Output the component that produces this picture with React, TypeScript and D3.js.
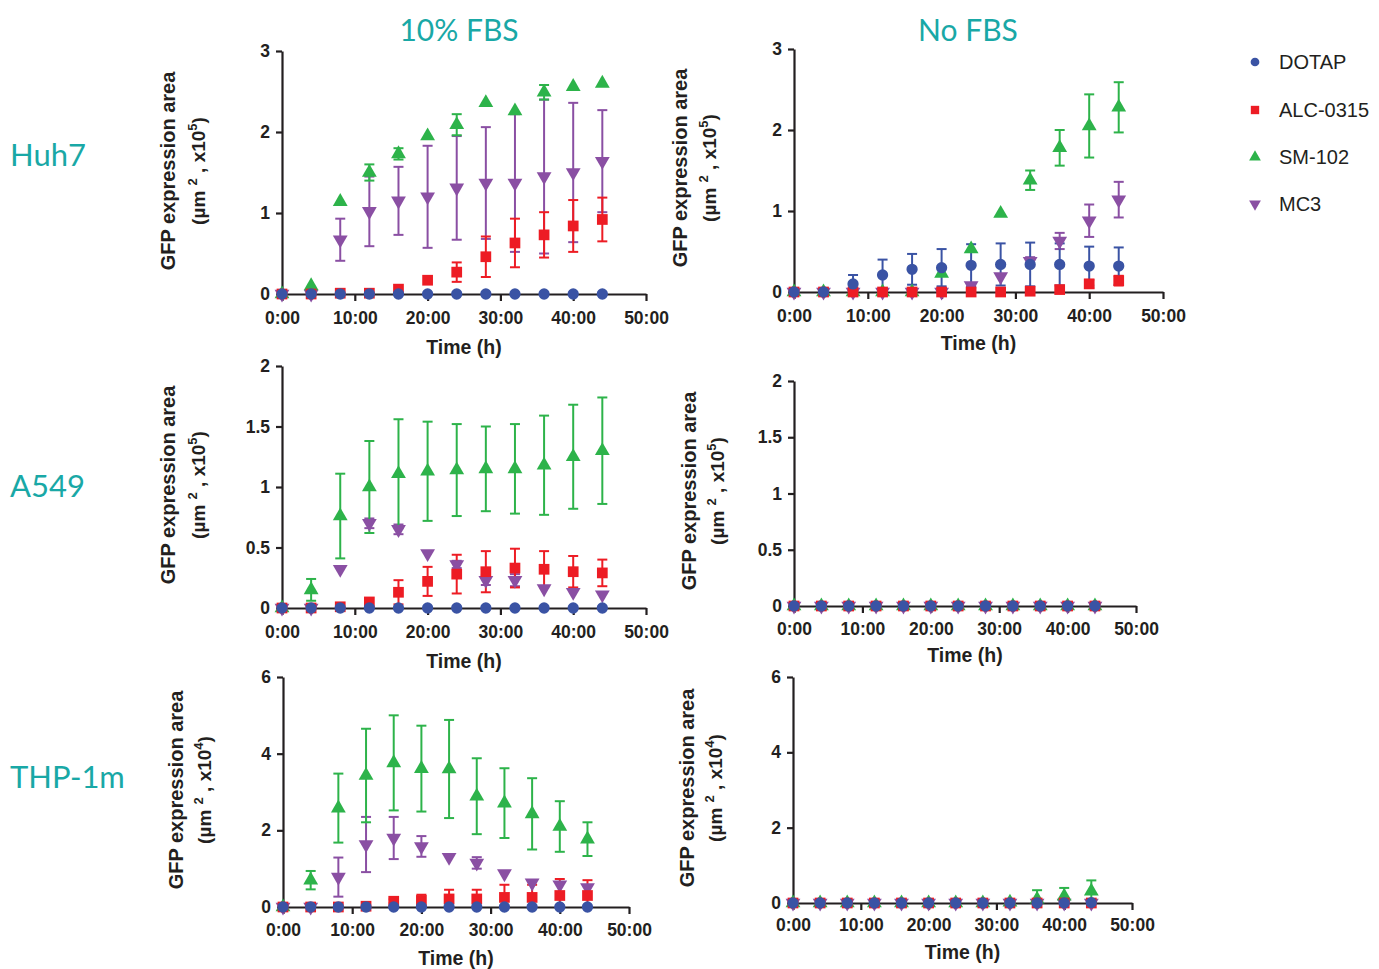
import * as d3 from 'd3'
import { useEffect, useRef } from 'react'

// sampling times (h)
const times = [0, 4, 8, 12, 16, 20, 24, 28, 32, 36, 40, 44]
const xTicks = [0, 10, 20, 30, 40, 50]

const seriesNames = ['DOTAP', 'ALC-0315', 'SM-102', 'MC3']
const seriesColors = ['#3a53a4', '#ed1c24', '#2db34a', '#8a4fa3']
const seriesShapes = ['circle', 'square', 'triangle', 'down']

const columnTitles = ['10% FBS', 'No FBS']
const rowLabels = ['Huh7', 'A549', 'THP-1m']

// Huh7, 10% FBS
const huh7FbsDotap = [0, 0, 0, 0, 0, 0, 0, 0, 0, 0, 0, 0]
const huh7FbsDotapSd = [0, 0, 0, 0, 0, 0, 0, 0, 0, 0, 0, 0]
const huh7FbsAlc = [0, 0, 0.01, 0.01, 0.06, 0.17, 0.27, 0.46, 0.63, 0.73, 0.84, 0.92]
const huh7FbsAlcSd = [0, 0, 0, 0, 0, 0, 0.12, 0.25, 0.3, 0.28, 0.32, 0.27]
const huh7FbsSm = [0, 0.1, 1.14, 1.5, 1.73, 1.95, 2.09, 2.36, 2.26, 2.49, 2.56, 2.6]
const huh7FbsSmSd = [0, 0, 0, 0.1, 0.07, 0, 0.13, 0, 0, 0.09, 0, 0]
const huh7FbsMc3 = [0, 0, 0.67, 1.02, 1.15, 1.2, 1.31, 1.37, 1.37, 1.45, 1.5, 1.64]
const huh7FbsMc3Sd = [0, 0, 0.26, 0.43, 0.42, 0.63, 0.64, 0.69, 0.85, 0.95, 0.86, 0.63]

// Huh7, no FBS
const huh7NoDotap = [0, 0, 0.1, 0.21, 0.28, 0.3, 0.33, 0.34, 0.34, 0.34, 0.32, 0.32]
const huh7NoDotapSd = [0, 0, 0.11, 0.19, 0.19, 0.23, 0.26, 0.26, 0.27, 0.26, 0.24, 0.23]
const huh7NoAlc = [0, 0, 0, 0, 0, 0, 0, 0, 0.01, 0.03, 0.1, 0.14]
const huh7NoAlcSd = [0, 0, 0, 0, 0, 0, 0, 0, 0, 0, 0.05, 0.06]
const huh7NoSm = [0, 0, 0, 0, 0, 0.23, 0.53, 0.97, 1.38, 1.78, 2.05, 2.28]
const huh7NoSmSd = [0, 0, 0, 0, 0, 0, 0, 0, 0.12, 0.22, 0.39, 0.31]
const huh7NoMc3 = [0, 0, 0, 0, 0, 0, 0.08, 0.19, 0.38, 0.63, 0.88, 1.14]
const huh7NoMc3Sd = [0, 0, 0, 0, 0, 0, 0.03, 0, 0.05, 0.1, 0.2, 0.22]

// A549, 10% FBS
const a549FbsDotap = [0, 0, 0, 0, 0, 0, 0, 0, 0, 0, 0, 0]
const a549FbsDotapSd = [0, 0, 0, 0, 0, 0, 0, 0, 0, 0, 0, 0]
const a549FbsAlc = [0, 0, 0.01, 0.05, 0.13, 0.22, 0.28, 0.3, 0.33, 0.32, 0.3, 0.29]
const a549FbsAlcSd = [0, 0, 0, 0, 0.1, 0.12, 0.16, 0.17, 0.16, 0.15, 0.13, 0.11]
const a549FbsSm = [0, 0.15, 0.76, 1.0, 1.11, 1.13, 1.14, 1.15, 1.15, 1.18, 1.25, 1.3]
const a549FbsSmSd = [0, 0.09, 0.35, 0.38, 0.45, 0.41, 0.38, 0.35, 0.37, 0.41, 0.43, 0.44]
const a549FbsMc3 = [0, 0, 0.32, 0.7, 0.65, 0.45, 0.36, 0.23, 0.23, 0.16, 0.13, 0.11]
const a549FbsMc3Sd = [0, 0, 0, 0.04, 0.04, 0, 0.03, 0.04, 0.05, 0, 0, 0]

// A549, no FBS
const a549NoDotap = [0, 0, 0, 0, 0, 0, 0, 0, 0, 0, 0, 0]
const a549NoAlc = [0, 0, 0, 0, 0, 0, 0, 0, 0, 0, 0, 0]
const a549NoSm = [0, 0, 0, 0, 0, 0, 0, 0, 0, 0, 0, 0]
const a549NoMc3 = [0, 0, 0, 0, 0, 0, 0, 0, 0, 0, 0, 0]
const a549NoSd = [0, 0, 0, 0, 0, 0, 0, 0, 0, 0, 0, 0]

// THP-1m, 10% FBS
const thpFbsDotap = [0, 0, 0, 0, 0, 0, 0, 0, 0, 0, 0, 0]
const thpFbsDotapSd = [0, 0, 0, 0, 0, 0, 0, 0, 0, 0, 0, 0]
const thpFbsAlc = [0, 0, 0, 0.02, 0.15, 0.17, 0.21, 0.21, 0.25, 0.25, 0.3, 0.3]
const thpFbsAlcSd = [0, 0, 0, 0, 0.05, 0.15, 0.24, 0.24, 0.33, 0.33, 0.43, 0.4]
const thpFbsSm = [0, 0.7, 2.58, 3.43, 3.76, 3.61, 3.6, 2.89, 2.71, 2.43, 2.1, 1.77]
const thpFbsSmSd = [0, 0.24, 0.9, 1.22, 1.24, 1.12, 1.28, 0.99, 0.91, 0.93, 0.66, 0.44]
const thpFbsMc3 = [0, 0, 0.78, 1.63, 1.8, 1.58, 1.3, 1.15, 0.87, 0.63, 0.58, 0.51]
const thpFbsMc3Sd = [0, 0, 0.51, 0.72, 0.55, 0.27, 0, 0.15, 0, 0, 0, 0]

// THP-1m, no FBS
const thpNoDotap = [0, 0, 0, 0, 0, 0, 0, 0, 0, 0, 0, 0.01]
const thpNoAlc = [0, 0, 0, 0, 0, 0, 0, 0, 0, 0, 0, 0]
const thpNoSm = [0, 0, 0, 0, 0, 0, 0, 0, 0.02, 0.1, 0.18, 0.31]
const thpNoSmSd = [0, 0, 0, 0, 0, 0, 0, 0, 0, 0.24, 0.22, 0.29]
const thpNoMc3 = [0, 0, 0, 0, 0, 0, 0, 0, 0, 0, 0, 0]
const thpNoSd = [0, 0, 0, 0, 0, 0, 0, 0, 0, 0, 0, 0]

const yTicksHuh7 = [0, 1, 2, 3]
const yTicksA549 = [0, 0.5, 1, 1.5, 2]
const yTicksThp = [0, 2, 4, 6]

const panels = [
  {
    series: [[huh7FbsDotap, huh7FbsDotapSd], [huh7FbsAlc, huh7FbsAlcSd], [huh7FbsSm, huh7FbsSmSd], [huh7FbsMc3, huh7FbsMc3Sd]],
    yTicks: yTicksHuh7, exp: '5',
    x0: 282, x1: 646, yTop: 51, yBot: 294, tickDy: 24, titleDy: 53, lab1: 168, lab2: 198, labY: 171,
  },
  {
    series: [[huh7NoDotap, huh7NoDotapSd], [huh7NoAlc, huh7NoAlcSd], [huh7NoSm, huh7NoSmSd], [huh7NoMc3, huh7NoMc3Sd]],
    yTicks: yTicksHuh7, exp: '5',
    x0: 794, x1: 1163, yTop: 49, yBot: 292, tickDy: 24, titleDy: 51, lab1: 680, lab2: 709, labY: 168,
  },
  {
    series: [[a549FbsDotap, a549FbsDotapSd], [a549FbsAlc, a549FbsAlcSd], [a549FbsSm, a549FbsSmSd], [a549FbsMc3, a549FbsMc3Sd]],
    yTicks: yTicksA549, exp: '5',
    x0: 282, x1: 646, yTop: 366, yBot: 608, tickDy: 24, titleDy: 53, lab1: 168, lab2: 198, labY: 485,
  },
  {
    series: [[a549NoDotap, a549NoSd], [a549NoAlc, a549NoSd], [a549NoSm, a549NoSd], [a549NoMc3, a549NoSd]],
    yTicks: yTicksA549, exp: '5',
    x0: 794, x1: 1136, yTop: 381, yBot: 606, tickDy: 23, titleDy: 49, lab1: 689, lab2: 717, labY: 491,
  },
  {
    series: [[thpFbsDotap, thpFbsDotapSd], [thpFbsAlc, thpFbsAlcSd], [thpFbsSm, thpFbsSmSd], [thpFbsMc3, thpFbsMc3Sd]],
    yTicks: yTicksThp, exp: '4',
    x0: 283, x1: 629, yTop: 677, yBot: 907, tickDy: 23, titleDy: 51, lab1: 176, lab2: 204, labY: 790,
  },
  {
    series: [[thpNoDotap, thpNoSd], [thpNoAlc, thpNoSd], [thpNoSm, thpNoSmSd], [thpNoMc3, thpNoSd]],
    yTicks: yTicksThp, exp: '4',
    x0: 793, x1: 1132, yTop: 677, yBot: 903, tickDy: 22, titleDy: 49, lab1: 687, lab2: 715, labY: 788,
  },
]

const ink = '#231f20'
const teal = '#19a8a6'
const axisFont = '"Liberation Sans", Arial, sans-serif'

const symbolFor = (shape, size) => {
  if (shape === 'circle') return d3.symbol(d3.symbolCircle, size)()
  if (shape === 'square') return d3.symbol(d3.symbolSquare, size)()
  return d3.symbol(d3.symbolTriangle, size)()
}

const App = () => {
  const ref = useRef(null)

  useEffect(() => {
    if (!ref.current) return
    const root = d3.select(ref.current)
    root.selectAll('*').remove()

    const svg = root
      .append('svg')
      .attr('width', 1379)
      .attr('height', 969)
      .style('position', 'absolute')
      .style('left', 0)
      .style('top', 0)
      .style('background', '#fff')

    // column titles + row labels
    const colCenters = [459, 968]
    columnTitles.forEach((t, i) => {
      svg.append('text').attr('x', colCenters[i]).attr('y', 41).attr('text-anchor', 'middle')
        .attr('fill', teal).style('font-family', 'Lato, sans-serif').style('font-size', '30px').text(t)
    })
    const rowY = [166, 497, 788]
    rowLabels.forEach((t, i) => {
      svg.append('text').attr('x', 10).attr('y', rowY[i]).attr('fill', teal)
        .style('font-family', 'Lato, sans-serif').style('font-size', '31px').text(t)
    })

    panels.forEach((p) => {
      const yMax = p.yTicks[p.yTicks.length - 1]
      const x = d3.scaleLinear().domain([0, 50]).range([p.x0, p.x1])
      const y = d3.scaleLinear().domain([0, yMax]).range([p.yBot, p.yTop])
      const g = svg.append('g')

      // X axis
      g.append('g')
        .attr('transform', `translate(0,${p.yBot})`)
        .call(d3.axisBottom(x).tickValues(xTicks).tickSize(7).tickSizeOuter(0).tickFormat((d) => `${d}:00`))
        .call((a) => a.select('.domain').attr('stroke', ink).attr('stroke-width', 2.2))
        .call((a) => a.selectAll('.tick line').attr('stroke', ink).attr('stroke-width', 2.2))
        .call((a) => a.selectAll('.tick text').attr('y', p.tickDy).attr('dy', '0.35em').attr('fill', ink)
          .style('font-family', axisFont).style('font-size', '17.5px').style('font-weight', 'bold'))

      // Y axis
      g.append('g')
        .attr('transform', `translate(${p.x0},0)`)
        .call(d3.axisLeft(y).tickValues(p.yTicks).tickSize(6).tickSizeOuter(0).tickFormat((d) => `${d}`))
        .call((a) => a.select('.domain').attr('stroke', ink).attr('stroke-width', 2.2))
        .call((a) => a.selectAll('.tick line').attr('stroke', ink).attr('stroke-width', 2.2))
        .call((a) => a.selectAll('.tick text').attr('x', -12).attr('fill', ink)
          .style('font-family', axisFont).style('font-size', '17.5px').style('font-weight', 'bold'))

      g.append('text').attr('x', (p.x0 + p.x1) / 2).attr('y', p.yBot + p.titleDy).attr('dy', '0.35em')
        .attr('text-anchor', 'middle').attr('fill', ink)
        .style('font-family', axisFont).style('font-size', '19.5px').style('font-weight', 'bold').text('Time (h)')

      // Y label (two lines)
      g.append('text')
        .attr('transform', `translate(${p.lab1},${p.labY}) rotate(-90)`)
        .attr('dy', '0.35em').attr('text-anchor', 'middle').attr('fill', ink)
        .style('font-family', axisFont).style('font-size', '20px').style('font-weight', 'bold')
        .text('GFP expression area')
      const l2 = g.append('text')
        .attr('transform', `translate(${p.lab2},${p.labY}) rotate(-90)`)
        .attr('dy', '0.35em').attr('text-anchor', 'middle').attr('fill', ink)
        .style('font-family', axisFont).style('font-size', '19px').style('font-weight', 'bold')
      l2.append('tspan').text('(µm ')
      l2.append('tspan').attr('dy', -8).style('font-size', '13px').text('2')
      l2.append('tspan').attr('dy', 8).text(' , x10')
      l2.append('tspan').attr('dy', -8).style('font-size', '13px').text(p.exp)
      l2.append('tspan').attr('dy', 8).text(')')

      // error bars first, symbols on top
      const order = [3, 2, 1, 0]
      order.forEach((si) => {
        const [mean, sd] = p.series[si]
        const pts = times.map((t, i) => ({ t, m: mean[i], s: sd[i] })).filter((d) => d.s > 0)
        const eb = g.append('g').attr('stroke', seriesColors[si]).attr('stroke-width', 2).attr('fill', 'none')
        pts.forEach((d) => {
          const cx = x(d.t)
          const hi = y(Math.min(d.m + d.s, yMax))
          const lo = y(Math.max(d.m - d.s, 0))
          eb.append('line').attr('x1', cx).attr('x2', cx).attr('y1', hi).attr('y2', lo)
          eb.append('line').attr('x1', cx - 5).attr('x2', cx + 5).attr('y1', hi).attr('y2', hi)
          eb.append('line').attr('x1', cx - 5).attr('x2', cx + 5).attr('y1', lo).attr('y2', lo)
        })
      })

      order.forEach((si) => {
        const [mean] = p.series[si]
        const shape = seriesShapes[si]
        const size = shape === 'circle' ? 100 : shape === 'square' ? 115 : 95
        g.append('g')
          .selectAll('path')
          .data(times.map((t, i) => ({ t, v: mean[i] })))
          .enter()
          .append('path')
          .attr('d', symbolFor(shape, size))
          .attr('transform', (d) => `translate(${x(d.t)},${y(d.v)})${shape === 'down' ? ' rotate(180)' : ''}`)
          .attr('fill', seriesColors[si])
      })
    })

    // legend
    const legY = [62, 110, 157, 204]
    seriesNames.forEach((name, i) => {
      const shape = seriesShapes[i]
      const size = shape === 'circle' ? 60 : shape === 'square' ? 70 : 60
      svg.append('path')
        .attr('d', symbolFor(shape, size))
        .attr('transform', `translate(1255,${legY[i]})${shape === 'down' ? ' rotate(180)' : ''}`)
        .attr('fill', seriesColors[i])
      svg.append('text').attr('x', 1279).attr('y', legY[i]).attr('dy', '0.35em').attr('fill', ink)
        .style('font-family', axisFont).style('font-size', '20px').text(name)
    })
  }, [])

  return <div ref={ref} />
}

export default App
